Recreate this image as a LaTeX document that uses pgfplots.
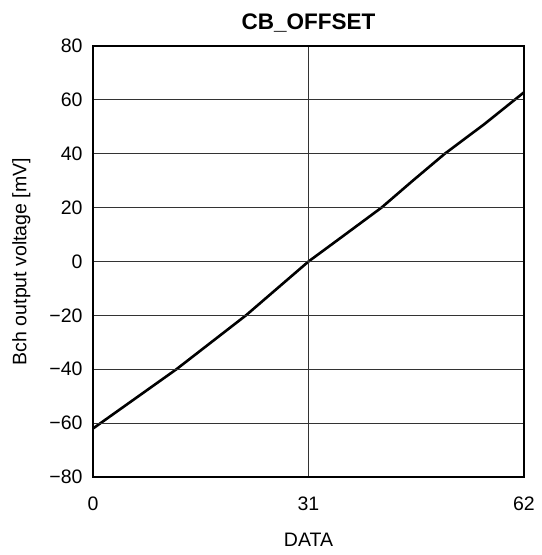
\documentclass[border=0pt]{standalone}
\usepackage{pgfplots}
\pgfplotsset{compat=1.18}
\usepackage{fontspec}
\setmainfont{Liberation Sans}
\usetikzlibrary{calc}

\begin{document}
\begin{tikzpicture}[font=\fontsize{19.5}{23}\selectfont]
\begin{axis}[
    name=ax,
    scale only axis,
    width=431pt, height=431pt,
    xmin=0, xmax=62,
    ymin=-80, ymax=80,
    xtick={0,31,62},
    ytick={-80,-60,-40,-20,0,20,40,60,80},
    yticklabels={−80,−60,−40,−20,0,20,40,60,80},
    xticklabels={0,31,62},
    tick label style={font=\fontsize{19.5}{23}\selectfont},
    label style={font=\fontsize{19.5}{23}\selectfont},
    major tick length=0pt,
    grid=major,
    major grid style={line width=1pt, draw=black!80},
    axis line style={line width=2.2pt},
    xticklabel style={yshift=-16pt},
    yticklabel style={xshift=-7pt},
    xlabel={DATA},
    ylabel={Bch output voltage [mV]},
    xlabel style={yshift=-16pt},
    ylabel style={yshift=12pt},
    title={\textbf{CB\_OFFSET}},
    title style={font=\fontsize{22.5}{26}\selectfont, yshift=4pt},
    axis on top,
]
\addplot[black, line width=2.6pt] coordinates {
    (0,-62) (6,-51) (12,-40) (17,-30) (22,-20) (26.5,-10)
    (31,0) (36,9.5) (41.5,20) (46,30) (50.6,40) (56.3,51) (62,62.8)
};
\end{axis}
\path ($(ax.south west)+(-93pt,-78pt)$) rectangle ($(ax.north east)+(18pt,46pt)$);
\end{tikzpicture}
\end{document}
